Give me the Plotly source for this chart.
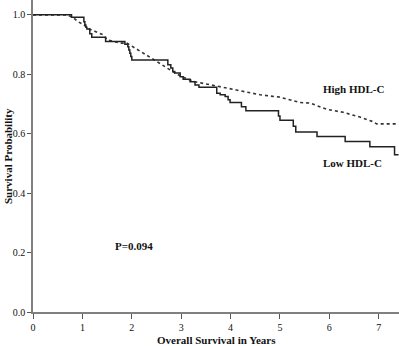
import plotly.graph_objects as go

# Low HDL-C (solid, Kaplan-Meier step curve)
low_time = [0, 0.78, 1.03, 1.05, 1.07, 1.09, 1.15, 1.19, 1.47, 1.86, 1.92, 1.94, 1.96, 1.98, 2.00,
            2.73, 2.79, 2.83, 2.87, 2.98, 3.04, 3.18, 3.28, 3.36, 3.72, 3.79, 3.89, 3.95, 3.99,
            4.22, 4.31, 4.97, 5.00, 5.27, 5.32, 5.75, 6.32, 6.82, 7.32, 7.40]
low_surv = [1.0, 0.992, 0.977, 0.966, 0.958, 0.952, 0.936, 0.925, 0.910, 0.901, 0.893, 0.882, 0.871, 0.860, 0.848,
            0.832, 0.821, 0.809, 0.804, 0.792, 0.783, 0.775, 0.764, 0.756, 0.736, 0.731, 0.725, 0.714, 0.705,
            0.691, 0.677, 0.660, 0.645, 0.625, 0.606, 0.591, 0.574, 0.556, 0.529, 0.529]

# High HDL-C (dotted)
high_time = [0, 0.67, 0.81, 0.91, 0.99, 1.15, 1.26, 1.42, 1.50, 1.76, 1.90, 2.17, 2.47, 2.81, 3.02,
             3.28, 3.68, 4.09, 4.29, 4.60, 5.00, 5.40, 5.61, 5.95, 6.28, 6.62, 6.88, 6.96, 7.40]
high_surv = [1.0, 1.0, 0.992, 0.977, 0.970, 0.952, 0.944, 0.933, 0.916, 0.905, 0.905, 0.878, 0.847, 0.811, 0.791,
             0.775, 0.761, 0.747, 0.740, 0.731, 0.723, 0.705, 0.703, 0.682, 0.672, 0.656, 0.641, 0.633, 0.633]

x_ticks = [0, 1, 2, 3, 4, 5, 6, 7]
y_ticks = [0.0, 0.2, 0.4, 0.6, 0.8, 1.0]

serif = "Liberation Serif"

fig = go.Figure()
fig.add_trace(go.Scatter(x=high_time, y=high_surv, mode="lines",
                         line=dict(color="#333333", width=1.6, dash="dot", shape="linear"),
                         showlegend=False, hoverinfo="skip"))
fig.add_trace(go.Scatter(x=low_time, y=low_surv, mode="lines",
                         line=dict(color="#222222", width=1.5, shape="hv"),
                         showlegend=False, hoverinfo="skip"))

fig.add_annotation(x=6.48, y=0.751, text="<b>High HDL-C</b>", showarrow=False,
                   font=dict(family=serif, size=11, color="#111"))
fig.add_annotation(x=6.46, y=0.502, text="<b>Low HDL-C</b>", showarrow=False,
                   font=dict(family=serif, size=11, color="#111"))
fig.add_annotation(x=2.04, y=0.223, text="<b>P=0.094</b>", showarrow=False,
                   font=dict(family=serif, size=11, color="#111"))

# axis titles placed in the margins
fig.add_annotation(xref="paper", yref="paper", x=0.5, y=0, yshift=-28, xanchor="center", yanchor="middle",
                   text="<b>Overall Survival in Years</b>",
                   showarrow=False, font=dict(family=serif, size=11, color="#111"))
fig.add_annotation(xref="paper", yref="paper", x=0, y=0.5, xshift=-25, xanchor="center", yanchor="middle",
                   textangle=-90, text="<b>Survival Probability</b>",
                   showarrow=False, font=dict(family=serif, size=11, color="#111"))

fig.update_layout(
    width=399, height=346,
    margin=dict(l=33, r=0, t=0, b=34, autoexpand=False),
    paper_bgcolor="white", plot_bgcolor="white",
    font=dict(family=serif, size=10, color="#111"),
)
fig.update_xaxes(range=[0, 7.41], tickvals=x_ticks, ticktext=[str(v) for v in x_ticks], automargin=False,
                 showgrid=False, zeroline=False, showline=True, linecolor="#808080", linewidth=1.5,
                 ticks="outside", ticklen=5, tickwidth=1, tickcolor="#555",
                 tickfont=dict(family=serif, size=10, color="#111"))
fig.update_yaxes(range=[0, 1.05], tickvals=y_ticks, ticktext=[f"{v:.1f}" for v in y_ticks], automargin=False,
                 showgrid=False, zeroline=False, showline=True, linecolor="#808080", linewidth=1.5,
                 ticks="outside", ticklen=4, tickwidth=1, tickcolor="#555",
                 tickfont=dict(family=serif, size=10, color="#111"))

fig.write_html("out.html", config={"displayModeBar": False},
               post_script="document.body.style.margin='0';")
